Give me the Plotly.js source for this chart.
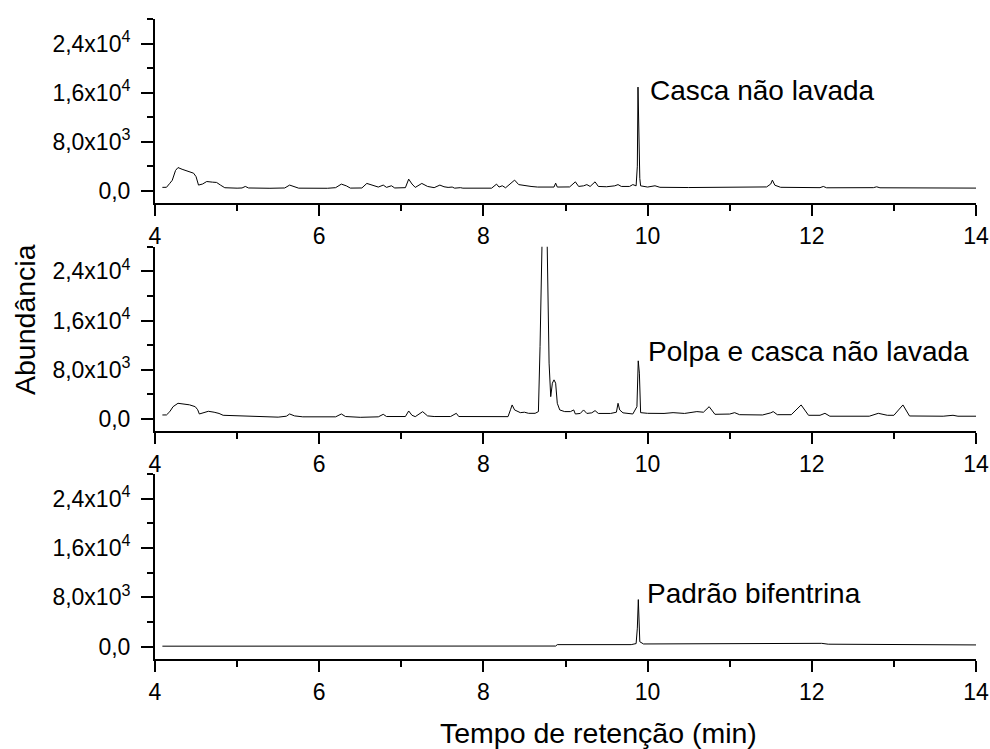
<!DOCTYPE html>
<html>
<head>
<meta charset="utf-8">
<script src="https://cdn.plot.ly/plotly-3.0.1.min.js"></script>
<style>html,body{margin:0;padding:0;background:#fff;}#chart{width:990px;height:749px;}</style>
</head>
<body>
<div id="chart"></div>
<script>
// Retention time (min) and abundance
const timeCasca = [4.09,4.14,4.18,4.21,4.25,4.28,4.33,4.40,4.47,4.50,4.53,4.58,4.63,4.70,4.75,4.80,4.85,5.00,5.06,5.10,5.14,5.40,5.58,5.64,5.70,5.75,6.10,6.20,6.27,6.33,6.38,6.52,6.58,6.65,6.72,6.78,6.82,6.88,6.92,7.05,7.09,7.13,7.17,7.25,7.32,7.40,7.47,7.52,7.57,7.62,7.65,7.72,7.75,8.10,8.16,8.19,8.23,8.27,8.33,8.38,8.43,8.50,8.58,8.66,8.80,8.86,8.88,8.90,9.05,9.12,9.16,9.22,9.26,9.30,9.36,9.40,9.50,9.60,9.64,9.68,9.78,9.82,9.86,9.875,9.883,9.89,9.895,9.905,9.915,9.95,10.00,10.09,10.15,10.50,10.80,11.00,11.30,11.45,11.50,11.52,11.55,11.57,11.62,12.10,12.14,12.18,12.75,12.79,12.83,14.00];
const abundCasca = [550,560,1200,1700,3300,3780,3500,3200,2860,2300,920,1100,1500,1400,1350,900,490,420,450,700,450,400,450,920,700,420,400,500,1080,800,430,450,1190,900,600,920,550,810,450,500,1890,1100,540,1190,700,500,920,650,540,600,420,500,420,420,1080,600,810,480,1200,1730,1000,810,700,600,550,600,1240,600,620,1450,700,800,1000,700,1450,700,650,800,1000,700,700,1000,800,4000,16900,11300,11000,2000,800,700,600,810,560,520,520,560,560,620,1100,1730,900,810,560,500,700,480,500,640,480,430];

const timePolpa = [4.09,4.14,4.18,4.22,4.28,4.35,4.42,4.49,4.52,4.54,4.60,4.65,4.72,4.78,4.83,5.00,5.20,5.50,5.60,5.64,5.70,5.80,6.20,6.27,6.32,6.50,6.72,6.78,6.82,7.05,7.09,7.13,7.17,7.26,7.32,7.40,7.60,7.67,7.70,8.30,8.33,8.35,8.38,8.41,8.45,8.50,8.55,8.63,8.67,8.69,8.705,8.715,8.745,8.775,8.782,8.80,8.82,8.84,8.86,8.88,8.90,8.93,8.99,9.06,9.10,9.12,9.18,9.22,9.26,9.32,9.36,9.40,9.55,9.62,9.64,9.66,9.70,9.75,9.82,9.87,9.886,9.90,9.915,10.00,10.20,10.31,10.45,10.60,10.68,10.75,10.82,11.00,11.06,11.12,11.40,11.50,11.53,11.58,11.75,11.87,11.96,12.10,12.16,12.22,12.70,12.81,12.92,13.00,13.11,13.19,13.60,13.72,13.78,14.00];
const abundPolpa = [650,660,1190,2000,2550,2450,2300,2000,1500,815,1000,1250,1100,900,600,500,380,300,450,815,500,350,350,815,400,270,350,760,400,400,1300,600,380,1190,500,400,400,920,400,380,1500,2280,1470,1300,1030,1100,920,920,1200,11800,22000,30000,50000,30000,21000,9080,3630,5820,6360,5820,2550,1470,1200,1200,1470,815,900,1470,900,1000,1360,900,900,1100,2550,1470,1000,920,815,2000,9450,7450,1030,920,900,1030,900,1200,1100,2000,760,800,1030,700,650,1000,1200,700,700,2280,600,600,920,450,450,920,600,600,2280,490,450,600,450,450];

const timePadrao = [4.09,8.88,8.90,9.80,9.86,9.875,9.887,9.895,9.905,9.95,11.80,11.86,11.95,12.05,12.12,12.20,14.00];
const abundPadrao = [80,100,330,330,500,3000,7630,5000,800,440,440,540,480,540,540,400,280];

const sampleLabels = ['Casca não lavada','Polpa e casca não lavada','Padrão bifentrina'];
const labelTime = [10.0, 9.98, 9.97];
const labelAbund = [16300, 10900, 8650];

const yTickVals = [0, 8000, 16000, 24000];
const yTickText = ['0,0','8,0x10<sup>3</sup>','1,6x10<sup>4</sup>','2,4x10<sup>4</sup>'];
const yMinorVals = [4000, 12000, 20000, 28000];
const xTickVals = [4, 6, 8, 10, 12, 14];
const xMinorVals = [5, 7, 9, 11, 13];

const FONT = 'Liberation Sans, Arial, sans-serif';

const line = {color: '#000', width: 1};
const traces = [
  {x: timeCasca, y: abundCasca, xaxis: 'x', yaxis: 'y', mode: 'lines', line: line, hoverinfo: 'skip'},
  {x: timePolpa, y: abundPolpa, xaxis: 'x2', yaxis: 'y2', mode: 'lines', line: line, hoverinfo: 'skip'},
  {x: timePadrao, y: abundPadrao, xaxis: 'x3', yaxis: 'y3', mode: 'lines', line: line, hoverinfo: 'skip'}
];

function xAx(anchor) {
  return {
    anchor: anchor, domain: [0, 1], range: [4, 14],
    showline: true, linecolor: '#000', linewidth: 2, mirror: false,
    showgrid: false, zeroline: false,
    ticks: 'outside', ticklen: 11, tickwidth: 2, tickcolor: '#000',
    tickmode: 'array', tickvals: xTickVals, ticktext: xTickVals.map(String),
    ticklabelstandoff: 0,
    tickfont: {family: FONT, size: 23, color: '#000'},
    minor: {tickmode: 'array', tickvals: xMinorVals, ticks: 'outside', ticklen: 6, tickwidth: 2, tickcolor: '#000', showgrid: false}
  };
}
function yAx(anchor, domain) {
  return {
    anchor: anchor, domain: domain, range: [-2000, 28000],
    showline: true, linecolor: '#000', linewidth: 2, mirror: false,
    showgrid: false, zeroline: false,
    ticks: 'outside', ticklen: 12, tickwidth: 2, tickcolor: '#000',
    tickmode: 'array', tickvals: yTickVals, ticktext: yTickText,
    ticklabelstandoff: 6,
    tickfont: {family: FONT, size: 23, color: '#000'},
    minor: {tickmode: 'array', tickvals: yMinorVals, ticks: 'outside', ticklen: 6, tickwidth: 2, tickcolor: '#000', showgrid: false}
  };
}

const annotations = sampleLabels.map((t, i) => ({
  text: t, x: labelTime[i], y: labelAbund[i],
  xref: i === 0 ? 'x' : 'x' + (i + 1), yref: i === 0 ? 'y' : 'y' + (i + 1),
  xanchor: 'left', yanchor: 'middle', showarrow: false,
  font: {family: FONT, size: 28, color: '#000'}
}));
annotations.push({
  text: 'Tempo de retenção (min)', xref: 'paper', yref: 'paper', x: 0.540, y: -0.1156,
  xanchor: 'center', yanchor: 'middle', showarrow: false,
  font: {family: FONT, size: 28.5, color: '#000'}
});
annotations.push({
  text: 'Abundância', xref: 'paper', yref: 'paper', x: -0.1583, y: 0.5297, textangle: -90,
  xanchor: 'center', yanchor: 'middle', showarrow: false,
  font: {family: FONT, size: 28.5, color: '#000'}
});

const layout = {
  width: 990, height: 749,
  margin: {l: 155, r: 14, t: 19, b: 90},
  paper_bgcolor: '#fff', plot_bgcolor: '#fff',
  showlegend: false,
  font: {family: FONT, color: '#000'},
  xaxis: xAx('y'), yaxis: yAx('x', [0.7125, 1]),
  xaxis2: xAx('y2'), yaxis2: yAx('x2', [0.3558, 0.6442]),
  xaxis3: xAx('y3'), yaxis3: yAx('x3', [0, 0.2891]),
  annotations: annotations
};

Plotly.newPlot('chart', traces, layout, {staticPlot: true, displayModeBar: false});
</script>
</body>
</html>
